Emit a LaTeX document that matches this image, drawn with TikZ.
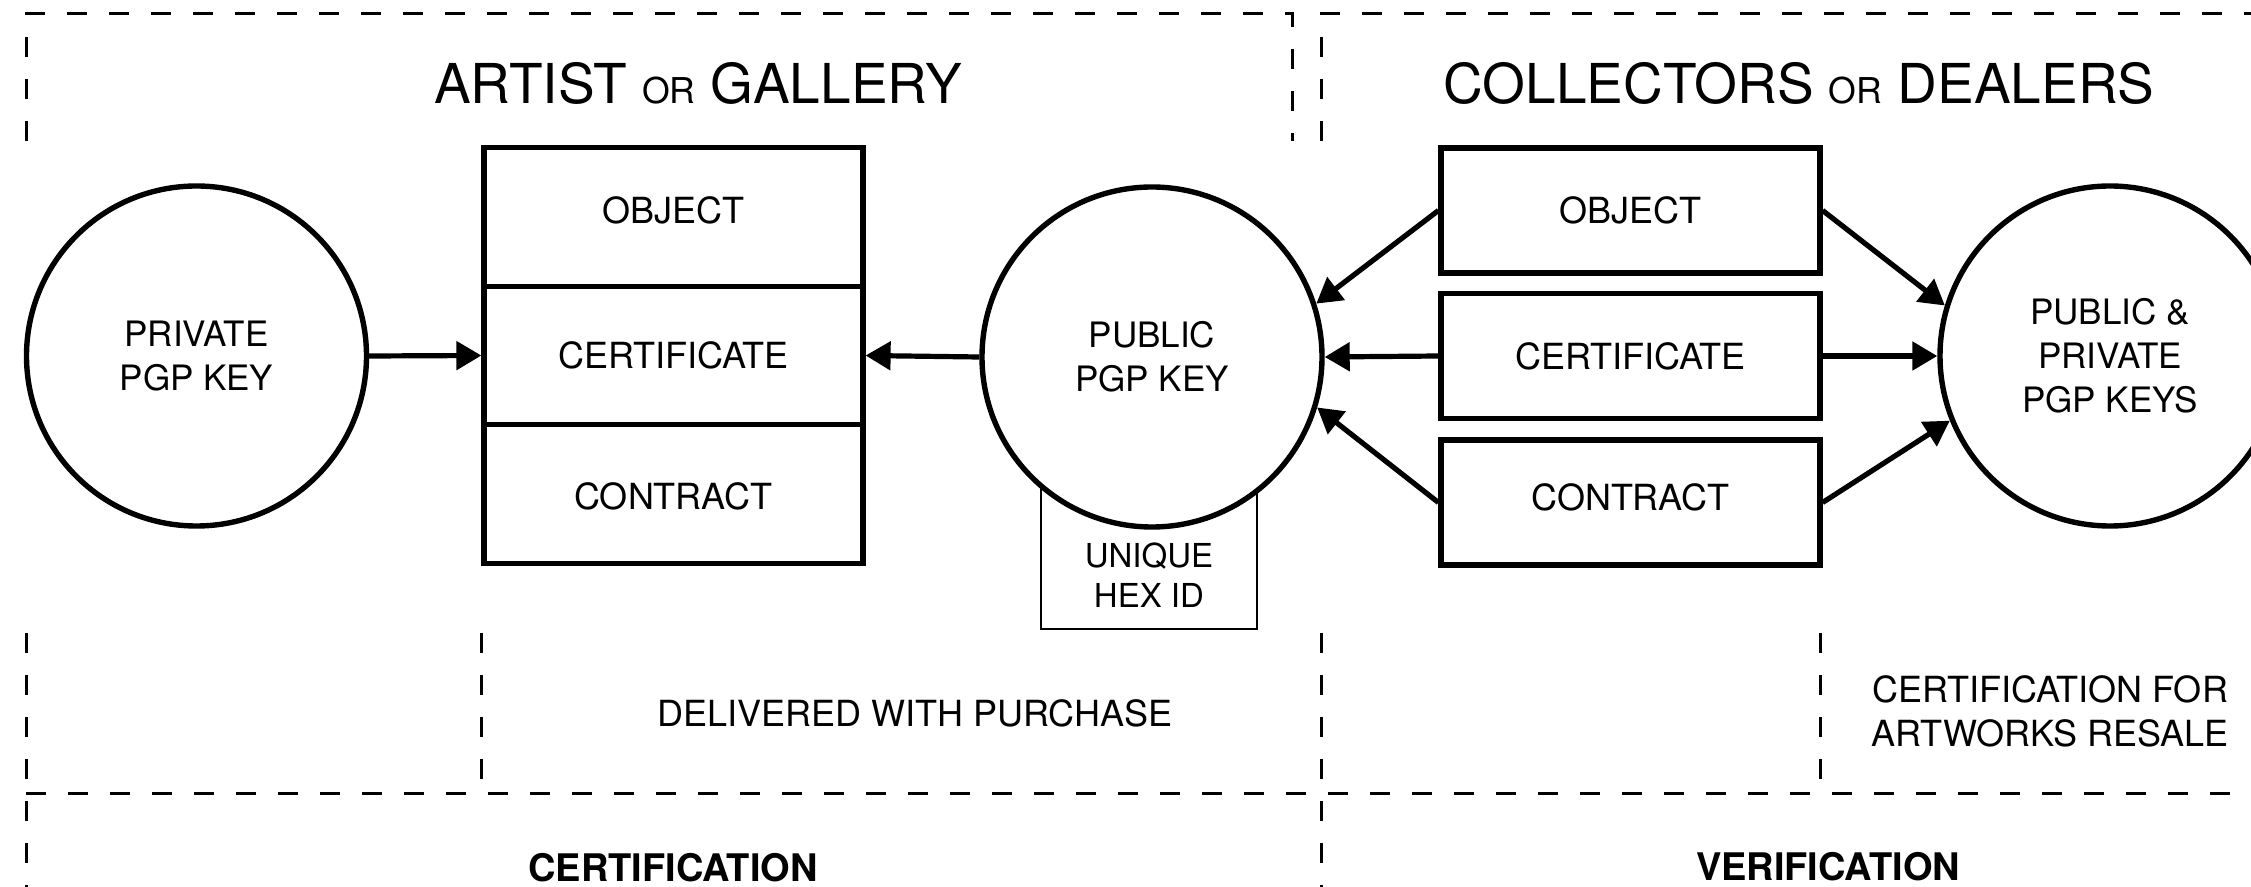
\documentclass[tikz,border=0pt]{standalone}
\usepackage{fontspec}
\setmainfont{TeX Gyre Heros}
\usetikzlibrary{arrows.meta}
\begin{document}
\begin{tikzpicture}[x=0.5pt,y=-0.5pt,
  dframe/.style={line width=1.5pt, dash pattern=on 10pt off 11pt},
  keycircle/.style={circle, draw, line width=2.7pt, fill=white, minimum size=170pt, inner sep=0pt, align=center, font=\fontsize{17.5}{22}\selectfont},
  stackbox/.style={rectangle, draw, line width=2.6pt, fill=white, minimum width=189.5pt, minimum height=69.2pt, inner sep=0pt, font=\fontsize{18}{22}\selectfont},
  itembox/.style={rectangle, draw, line width=2.6pt, fill=white, minimum width=189.5pt, minimum height=62.5pt, inner sep=0pt, font=\fontsize{18}{22}\selectfont},
  hexbox/.style={rectangle, draw, line width=1pt, minimum width=108pt, minimum height=89.5pt, inner sep=0pt},
  plain/.style={inner sep=0pt, align=center, font=\fontsize{18}{22}\selectfont},
  title/.style={inner sep=0pt, font=\fontsize{27.5}{32}\selectfont},
  footer/.style={inner sep=0pt, font=\fontsize{19}{22}\selectfont\bfseries},
  conn/.style={line width=2.6pt, -{Triangle[length=12.5pt,width=14pt]}}]
\clip (0,0) rectangle (2251,887);
\fill[white] (0,0) rectangle (2251,887);

% dashed frames
\draw[dframe] (26,141) -- (26,14) -- (1292,14) -- (1292,141);
\draw[dframe] (1321,141) -- (1321,14) -- (2300,14);
\draw[dframe] (26,633) -- (26,900);
\draw[dframe] (26,793) -- (2300,793);
\draw[dframe] (481,633) -- (481,793);
\draw[dframe] (1321,633) -- (1321,900);
\draw[dframe] (1820,633) -- (1820,793);

% titles
\node[title] (t1) at (698,83) {ARTIST {\fontsize{17.8}{20}\selectfont OR} GALLERY};
\node[title] (t2) at (1799,83) {COLLECTORS {\fontsize{17.8}{20}\selectfont OR} DEALERS};

% left side
\node[keycircle] (priv) at (196.5,356) {PRIVATE\\PGP KEY};
\node[stackbox, text height=13pt, text depth=6pt] (obj1) at (673.5,217) {OBJECT};
\node[stackbox] (cert1) at (673.5,355.5) {CERTIFICATE};
\node[stackbox, text height=16pt, text depth=0pt] (con1) at (673.5,494) {CONTRACT};

\node[hexbox] (hex) at (1149,539.5) {};
\node[plain, font=\fontsize{16.5}{20}\selectfont] (hextext) at (1149,575) {UNIQUE\\HEX ID};
\node[keycircle] (pub) at (1152,357) {PUBLIC\\PGP KEY};

% right side
\node[itembox] (obj2) at (1630.5,210.5) {OBJECT};
\node[itembox] (cert2) at (1630.5,356) {CERTIFICATE};
\node[itembox, text height=13pt, text depth=4.5pt] (con2) at (1630.5,502.5) {CONTRACT};
\node[keycircle] (both) at (2110,356) {PUBLIC \&\\PRIVATE\\PGP KEYS};

% connectors
\draw[conn] (priv.east) -- (cert1.west);
\draw[conn] (pub.west) -- (cert1.east);
\draw[conn] (obj2.west) -- (pub.18);
\draw[conn] (cert2.west) -- (pub.east);
\draw[conn] (con2.west) -- (pub.-17);
\draw[conn] (obj2.east) -- (both.163);
\draw[conn] (cert2.east) -- (both.west);
\draw[conn] (con2.east) -- (both.-158);

% lower labels
\node[plain] (deliv) at (915,713) {DELIVERED WITH PURCHASE};
\node[plain] (resale) at (2050,711.5) {CERTIFICATION FOR\\ARTWORKS RESALE};
\node[footer] (certif) at (673,868) {CERTIFICATION};
\node[footer] (verif) at (1828,867) {VERIFICATION};
\end{tikzpicture}
\end{document}
